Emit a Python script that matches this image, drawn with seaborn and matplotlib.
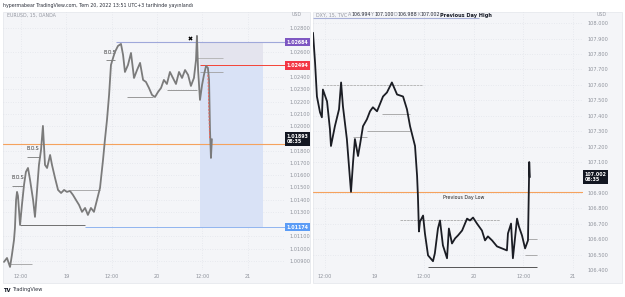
import matplotlib
matplotlib.use("Agg")
import matplotlib.pyplot as plt
import matplotlib.transforms as mtransforms
from matplotlib.patches import Rectangle
import seaborn as sns
import pandas as pd

sns.set_style("white")
plt.rcParams['font.family'] = ['DejaVu Sans']

# ---------------- data ----------------
# EURUSD 15m, hours from 18 Jul 12:00
eur_t = [-4.5, -3.7, -2.9, -2.4, -1.85, -1.6, -1.3, -1.05, -0.8, -0.25, 0.25, 0.8, 1.3, 1.85, 2.4,
         3.2, 3.7, 4.25, 4.75, 5.3, 5.8, 6.35, 6.9, 7.7, 8.2, 9.0, 9.8, 10.6, 11.4, 12.15,
         12.95, 13.75, 14.55, 15.35, 16.15, 16.95, 17.7, 18.5, 19.3, 20.1, 20.9, 21.7, 22.2, 22.75, 23.3,
         23.8, 24.35, 24.85, 25.65, 26.45, 27.0, 27.5, 28.3, 29.1, 29.9, 30.7, 31.5, 32.3, 33.05, 33.85,
         34.65, 35.45, 36.25, 37.05, 37.8, 38.6, 39.4, 40.2, 41.0, 41.8, 42.6, 43.4, 44.2, 44.95, 45.75,
         46.3, 46.55, 46.85, 47.35, 47.9, 48.4, 48.95, 49.45, 49.75, 50.0, 50.25, 50.5]
eur_p = [1.00892, 1.00924, 1.00851, 1.00949, 1.01071, 1.01169, 1.01397, 1.01463, 1.01430, 1.01193,
         1.01357, 1.01520, 1.01626, 1.01658, 1.01560, 1.01397, 1.01259, 1.01479, 1.01683, 1.01805,
         1.02001, 1.01683, 1.01658, 1.01764, 1.01683, 1.01577, 1.01479, 1.01454, 1.01479, 1.01463,
         1.01471, 1.01438, 1.01397, 1.01357, 1.01300, 1.01332, 1.01275, 1.01332, 1.01300, 1.01397,
         1.01495, 1.01724, 1.01887, 1.02050, 1.02254, 1.02498, 1.02555, 1.02604, 1.02653, 1.02670,
         1.02580, 1.02441, 1.02498, 1.02596, 1.02392, 1.02457, 1.02515, 1.02376, 1.02360, 1.02311,
         1.02254, 1.02237, 1.02278, 1.02311, 1.02376, 1.02343, 1.02441, 1.02392, 1.02343, 1.02441,
         1.02392, 1.02457, 1.02417, 1.02327, 1.02392, 1.02539, 1.02735, 1.02457, 1.02213, 1.02335,
         1.02417, 1.02490, 1.02474, 1.02376, 1.01968, 1.01740, 1.01893]

# DXY 15m, hours from 18 Jul 12:00
dxy_t = [-2.9, -2.4, -1.95, -1.2, -0.75, -0.5, 0.5, 1.2, 1.45, 2.4, 3.4, 3.9, 4.35, 5.3, 6.05,
         6.3, 6.8, 7.25, 8.0, 8.5, 9.2, 10.15, 10.9, 11.6, 12.6, 14.05, 15.0, 16.2, 17.45, 18.9,
         19.85, 20.6, 21.8, 22.3, 22.5, 22.75, 23.0, 23.75, 24.2, 24.95, 26.15, 26.6, 27.35, 27.85, 28.55,
         29.55, 30.0, 30.75, 31.5, 32.2, 33.2, 34.4, 35.1, 35.85, 36.8, 38.0, 38.75, 39.45, 40.45, 41.65,
         42.85, 44.05, 44.3, 45.05, 45.5, 46.5, 46.95, 47.7, 48.45, 49.15, 49.4, 49.45, 49.6]
dxy_p = [107.938, 107.744, 107.525, 107.422, 107.390, 107.570, 107.493, 107.313, 107.204, 107.332,
         107.442, 107.616, 107.461, 107.249, 106.991, 106.907, 107.100, 107.249, 107.139, 107.216,
         107.332, 107.377, 107.429, 107.455, 107.429, 107.525, 107.551, 107.616, 107.538, 107.525,
         107.442, 107.332, 107.204, 107.010, 106.882, 106.650, 106.714, 106.753, 106.637, 106.495,
         106.457, 106.508, 106.669, 106.721, 106.560, 106.476, 106.669, 106.572, 106.605, 106.624,
         106.656, 106.733, 106.721, 106.740, 106.701, 106.656, 106.592, 106.618, 106.592, 106.553,
         106.540, 106.527, 106.637, 106.701, 106.476, 106.733, 106.682, 106.624, 106.540, 106.592,
         106.991, 107.100, 107.002]

xtick_pos = [0, 12, 24, 36, 48, 60]
xtick_lab = ['12:00', '19', '12:00', '20', '12:00', '21']
eur_yticks = [1.009, 1.010, 1.011, 1.013, 1.014, 1.015, 1.016, 1.017, 1.018, 1.020,
              1.021, 1.022, 1.023, 1.024, 1.026, 1.028]
dxy_yticks = [106.4, 106.5, 106.6, 106.7, 106.8, 106.9, 107.1, 107.2, 107.3, 107.4,
              107.5, 107.6, 107.7, 107.8, 107.9, 108.0]

eur_high, eur_entry, eur_last, eur_target = 1.02684, 1.02494, 1.01893, 1.01174
eur_orange = 1.01854
dxy_last, dxy_pdh, dxy_pdl = 107.002, 108.034, 106.905

# ---------------- figure ----------------
W, H = 625, 297
fig = plt.figure(figsize=(W / 100, H / 100), dpi=100)
fig.patch.set_facecolor('white')

def fx(px):
    return px / W

def fy(py):
    return 1 - py / H

panel_bg = '#f4f5f8'
for x0, x1 in [(3, 310), (313, 622)]:
    fig.patches.append(Rectangle((fx(x0), fy(283)), fx(x1 - x0), (283 - 12) / H,
                                 transform=fig.transFigure, facecolor=panel_bg,
                                 edgecolor='#e3e5ea', linewidth=0.5, zorder=-5))

axL = fig.add_axes([fx(3), fy(270), fx(282), 258 / H])
axR = fig.add_axes([fx(313), fy(270), fx(270), 258 / H])

tick_col = '#8f939c'
for ax in (axL, axR):
    ax.set_zorder(2)
    ax.set_facecolor('none')
    for s in ax.spines.values():
        s.set_visible(False)
    ax.yaxis.tick_right()
    ax.tick_params(axis='both', length=0, labelsize=3.6, colors=tick_col)
    ax.tick_params(axis='y', pad=3)
    ax.tick_params(axis='x', pad=3)
    ax.set_xticks(xtick_pos)
    ax.set_xticklabels(xtick_lab)
    ax.grid(True, linestyle=(0, (1, 2.5)), color='#dcdfe6', linewidth=0.5)
    ax.set_axisbelow(True)

# ---------- left: EURUSD ----------
axL.set_xlim(-4.76, 69.84)
axL.set_ylim(1.00826, 1.02930)
axL.set_yticks(eur_yticks)
axL.set_yticklabels([f'{v:.5f}' for v in eur_yticks])

# position box
axL.add_patch(Rectangle((47.35, eur_entry), 64.0 - 47.35, eur_high - eur_entry,
                        facecolor='#e4e4ee', edgecolor='none', zorder=1))
axL.add_patch(Rectangle((47.35, eur_target), 64.0 - 47.35, eur_entry - eur_target,
                        facecolor='#d9e2f6', edgecolor='none', zorder=1))

axL.axhline(eur_orange, color='#f5a25d', linewidth=0.8, zorder=2)
axL.hlines(eur_high, 25.1, 69.84, color='#9fa8da', linewidth=0.8, zorder=2)
axL.hlines(eur_entry, 47.35, 69.84, color='#f44336', linewidth=0.7, zorder=2)
axL.hlines(eur_target, 16.9, 69.84, color='#90b4ef', linewidth=0.7, zorder=2)
axL.hlines(1.01193, -0.25, 16.9, color='#6f6f6f', linewidth=0.7, zorder=2)
axL.hlines(1.01479, 13.0, 20.9, color='#a0a0a0', linewidth=0.6, zorder=2)
axL.hlines(1.02237, 28.0, 34.9, color='#8a8a8a', linewidth=0.6, zorder=2)
axL.hlines(1.02294, 38.6, 46.6, color='#8a8a8a', linewidth=0.6, zorder=2)
axL.hlines(1.02555, 46.6, 53.4, color='#b0b0b0', linewidth=0.6, zorder=2)
axL.hlines(1.02441, 47.35, 53.4, color='#a0a0a0', linewidth=0.6, zorder=2)
axL.hlines(1.00876, -2.9, 2.9, color='#a0a0a0', linewidth=0.6, zorder=2)

# B.O.S markers
for tx, ty, l0, l1, ly in [(-0.8, 1.01560, -2.4, 0.5, 1.01512),
                           (3.2, 1.01800, 1.6, 5.0, 1.01748),
                           (23.5, 1.02580, 22.5, 25.0, 1.02539)]:
    axL.hlines(ly, l0, l1, color='#7a7a7a', linewidth=0.6, zorder=3)
    axL.text(tx, ty, 'B.O.S', fontsize=3.3, color='#333333', ha='center', va='bottom', zorder=4)

dfL = pd.DataFrame({'t': eur_t, 'p': eur_p})
sns.lineplot(data=dfL, x='t', y='p', ax=axL, color='#7b7b7b', linewidth=1.3,
             estimator=None, sort=False, legend=False, zorder=5)
axL.plot([49.45, 49.9], [1.02417, 1.01893], color='#f0645a', linewidth=0.7,
         linestyle=(0, (2, 1.5)), zorder=6)
axL.scatter([44.7], [1.02718], marker='X', s=9, color='black', zorder=6, linewidths=0)
axL.set_xlabel('')
axL.set_ylabel('')

trL = mtransforms.blended_transform_factory(axL.transAxes, axL.transData)
def price_label(ax, tr, y, txt, bg):
    ax.text(1.006, y, txt, transform=tr, fontsize=3.4, color='white', ha='left', va='center',
            fontweight='bold', linespacing=1.1,
            bbox=dict(boxstyle='square,pad=0.35', facecolor=bg, edgecolor='none'), zorder=10,
            clip_on=False)

price_label(axL, trL, eur_high, '1.02684', '#7e57c2')
price_label(axL, trL, eur_entry, '1.02494', '#f23645')
price_label(axL, trL, eur_last, '1.01893\n08:35', '#131722')
price_label(axL, trL, eur_target, '1.01174', '#5b9cf6')

# ---------- right: DXY ----------
axR.set_xlim(-2.9, 62.47)
axR.set_ylim(106.4114, 108.0728)
axR.set_yticks(dxy_yticks)
axR.set_yticklabels([f'{v:.3f}' for v in dxy_yticks])

axR.axhline(dxy_pdl, color='#f5a25d', linewidth=0.8, zorder=2)
axR.hlines(dxy_pdh, -2.9, 37.3, color='#a8b0d8', linewidth=0.8, zorder=2)
axR.hlines(107.602, -0.5, 23.5, color='#b0b0b0', linewidth=0.6, linestyle=(0, (3, 1)), zorder=2)
axR.hlines(107.409, 13.8, 20.6, color='#a0a0a0', linewidth=0.6, zorder=2)
axR.hlines(107.302, 10.2, 20.6, color='#a0a0a0', linewidth=0.6, zorder=2)
axR.hlines(107.260, 6.8, 10.2, color='#a0a0a0', linewidth=0.6, zorder=2)
axR.hlines(106.722, 18.2, 42.4, color='#a8a8a8', linewidth=0.6, linestyle=(0, (3, 1)), zorder=2)
axR.hlines(106.418, 24.9, 51.3, color='#555555', linewidth=0.7, zorder=2)
axR.hlines(106.599, 49.0, 51.3, color='#a0a0a0', linewidth=0.6, zorder=2)
axR.hlines(106.500, 48.4, 51.3, color='#a0a0a0', linewidth=0.6, zorder=2)

dfR = pd.DataFrame({'t': dxy_t, 'p': dxy_p})
sns.lineplot(data=dfR, x='t', y='p', ax=axR, color='#1b1d24', linewidth=1.3,
             estimator=None, sort=False, legend=False, zorder=5)
axR.text(33.6, 106.869, 'Previous Day Low', fontsize=3.4, color='#222222', ha='center',
         va='center', zorder=6)
axR.set_xlabel('')
axR.set_ylabel('')

trR = mtransforms.blended_transform_factory(axR.transAxes, axR.transData)
price_label(axR, trR, dxy_last, '107.002\n08:35', '#131722')

# ---------- texts ----------
fig.text(fx(3), fy(6), 'hypermabear TradingView.com, Tem 20, 2022 13:51 UTC+3 tarihinde yayınlandı',
         fontsize=3.4, color='#2a2e39', va='center', ha='left')
fig.text(fx(7), fy(15), 'EURUSD, 15, OANDA', fontsize=3.4, color='#9598a1', va='center')
fig.text(fx(292), fy(15), 'USD', fontsize=3.4, color='#9598a1', va='center')
fig.text(fx(597), fy(15), 'USD', fontsize=3.4, color='#9598a1', va='center')
fig.text(fx(316), fy(15), 'DXY, 15, TVC', fontsize=3.4, color='#9598a1', va='center')
x0 = 348
for lab, val in [('A', '106.994'), ('Y', '107.100'), ('D', '106.988'), ('K', '107.002')]:
    fig.text(fx(x0), fy(15), lab, fontsize=3.4, color='#9598a1', va='center')
    fig.text(fx(x0 + 3), fy(15), val, fontsize=3.4, color='#2a2e39', va='center')
    x0 += 23
fig.text(fx(440), fy(15), 'Previous Day High', fontsize=3.6, color='#131722', va='center',
         fontweight='bold')
fig.text(fx(3), fy(290), 'TV', fontsize=3.8, color='#131722', va='center', fontweight='bold')
fig.text(fx(12), fy(290), 'TradingView', fontsize=3.6, color='#2a2e39', va='center')

fig.savefig('out.png', dpi=100, facecolor='white')
